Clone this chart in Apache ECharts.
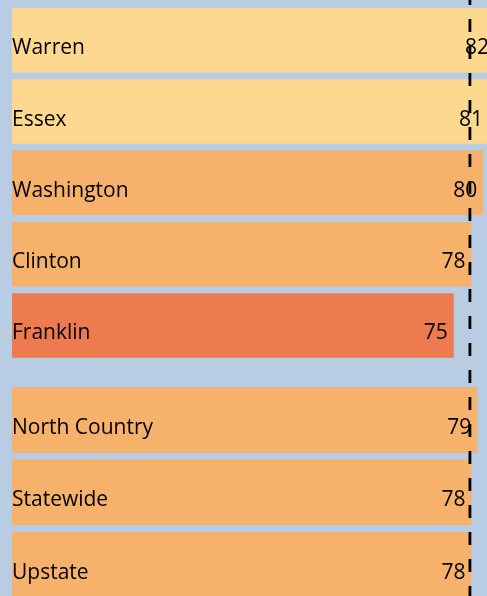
<!DOCTYPE html>
<html><head><meta charset="utf-8">
<script src="https://cdn.jsdelivr.net/npm/echarts@6/dist/echarts.min.js"></script>
<style>html,body{margin:0;padding:0;background:#b8cce4}#c{width:487px;height:596px}</style>
</head><body><div id="c"></div>
<script>
const countyNames = ['Warren','Essex','Washington','Clinton','Franklin'];
const countyValues = [82,81,80,78,75];
const countyColors = ['#fdd98f','#fdd98f','#f6b26b','#f6b26b','#ee7b50'];
const regionNames = ['North Country','Statewide','Upstate'];
const regionValues = [79,78,78];
const regionColors = ['#f6b26b','#f6b26b','#f6b26b'];
const refValue = 77.75;

const X = {min:0,max:80.65,show:false};
const lbl = {
  show:true, fontFamily:'Open Sans', fontSize:21, color:'#000'
};
function mk(names, vals, cols, idx){
  return {
    type:'bar', xAxisIndex:idx, yAxisIndex:idx, barCategoryGap:'9.5%',
    data: vals.map((v,i)=>({value:v, itemStyle:{color:cols[i]}})),
    label:{...lbl, position:'insideRight', distance:6, offset:[0,8], formatter:'{c}'},
    clip:false, silent:true
  };
}
function names(names, idx){
  return {
    type:'bar', xAxisIndex:idx, yAxisIndex:idx, barGap:'-100%', barCategoryGap:'9.5%',
    data: names.map(()=>0),
    itemStyle:{color:'transparent'},
    label:{...lbl, position:'insideLeft', distance:0, offset:[0,8],
      formatter:(p)=>names[p.dataIndex]},
    silent:true
  };
}
const chart = echarts.init(document.getElementById('c'));
chart.setOption({
  backgroundColor:'#b8cce4',
  animation:false,
  grid:[
    {left:12,right:0,top:4.6,height:356.5,outerBoundsMode:'none'},
    {left:12,right:0,top:383.8,height:217,outerBoundsMode:'none'},
    {left:12,right:0,top:0,bottom:0,outerBoundsMode:'none'}
  ],
  xAxis:[{...X,gridIndex:0},{...X,gridIndex:1},{...X,gridIndex:2}],
  yAxis:[
    {type:'category',data:countyNames,inverse:true,show:false,gridIndex:0},
    {type:'category',data:regionNames,inverse:true,show:false,gridIndex:1},
    {type:'value',min:0,max:1,show:false,gridIndex:2}
  ],
  series:[
    mk(countyNames,countyValues,countyColors,0),
    names(countyNames,0),
    mk(regionNames,regionValues,regionColors,1),
    names(regionNames,1),
    {type:'line',xAxisIndex:2,yAxisIndex:2,symbol:'none',silent:true,z:10,
     data:[[refValue,1],[refValue,0]],
     lineStyle:{color:'#000',width:2.8,type:[13,14],dashOffset:8}}
  ]
});
</script></body></html>
